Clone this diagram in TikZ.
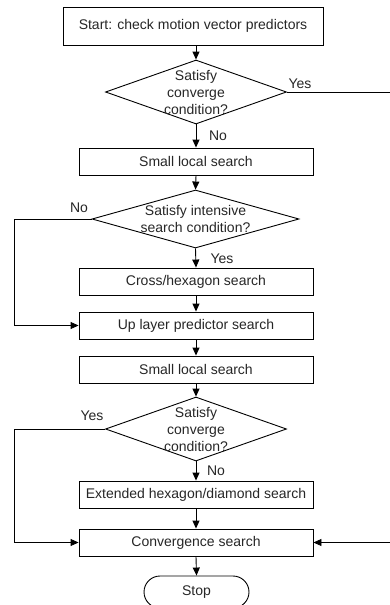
\documentclass[tikz,border=0pt]{standalone}
\usepackage{fontspec}
\setmainfont{Liberation Sans}
\usetikzlibrary{shapes.geometric,shapes.misc,arrows.meta}
\begin{document}
\begin{tikzpicture}[x=1pt,y=-1pt,
  every node/.style={font=\fontsize{14}{17}\selectfont, text=black!85},
  box/.style={draw, line width=0.9pt, rectangle, minimum width=234pt, minimum height=27pt, inner sep=0pt},
  dec/.style={draw, line width=0.9pt, diamond, inner sep=0pt, minimum width=181pt, minimum height=64pt},
  lbl/.style={inner sep=0pt},
  conn/.style={line width=0.9pt, -{Triangle[length=8pt,width=7pt]}},
  plain/.style={line width=0.9pt}]
\clip (0,0) rectangle (390,605);
\useasboundingbox (0,0) rectangle (390,605);
\node[box, minimum width=260pt, minimum height=38pt] (start) at (193,26) {Start: check motion vector predictors};
\node[dec, label={[align=center, inner sep=0pt, font=\fontsize{14}{17}\selectfont, text=black!85]center:Satisfy\\converge\\condition?}] (d1) at (196,92) {};
\node[box] (s1) at (196,161.5) {Small local search};
\node[dec, minimum width=207pt, minimum height=58pt, label={[align=center, inner sep=0pt, font=\fontsize{14}{17}\selectfont, text=black!85]center:Satisfy intensive\\search condition?}] (d2) at (195.5,219) {};
\node[box] (cross) at (196,281.5) {Cross/hexagon search};
\node[box] (up) at (196,325.5) {Up layer predictor search};
\node[box] (s2) at (196,369.5) {Small local search};
\node[dec, label={[align=center, inner sep=0pt, font=\fontsize{14}{17}\selectfont, text=black!85]center:Satisfy\\converge\\condition?}] (d3) at (196,429) {};
\node[box] (ext) at (196,494.5) {Extended hexagon/diamond search};
\node[box] (conv) at (196,542.5) {Convergence search};
\node[draw, line width=0.9pt, rounded rectangle, minimum width=105pt, minimum height=32pt, inner sep=0pt] (stop) at (196.5,592) {Stop};

\coordinate (r1) at (390,92);
\coordinate (r2) at (390,542.5);
\coordinate (l1) at (14,219);
\coordinate (l2) at (14,429);

\draw[conn] (start.south -| d1.north) -- (d1.north);
\draw[conn] (d1.south) -- (s1.north);
\draw[conn] (s1.south) -- (d2.north);
\draw[conn] (d2.south) -- (cross.north);
\draw[conn] (cross.south) -- (up.north);
\draw[conn] (up.south) -- (s2.north);
\draw[conn] (s2.south) -- (d3.north);
\draw[conn] (d3.south) -- (ext.north);
\draw[conn] (ext.south) -- (conv.north);
\draw[conn] (conv.south) -- (stop.north);
\draw[plain] (d1.east) -- (r1);
\draw[conn] (r2) -- (conv.east);
\draw[conn] (d2.west) -- (l1) |- (up.west);
\draw[conn] (d3.west) -- (l2) |- (conv.west);

\node[lbl] (y1) at (300,84) {Yes};
\node[lbl] (n1) at (218,136) {No};
\node[lbl] (n2) at (79,208) {No};
\node[lbl] (y2) at (222,259) {Yes};
\node[lbl] (y3) at (92,416) {Yes};
\node[lbl] (n3) at (216,471) {No};
\end{tikzpicture}
\end{document}
